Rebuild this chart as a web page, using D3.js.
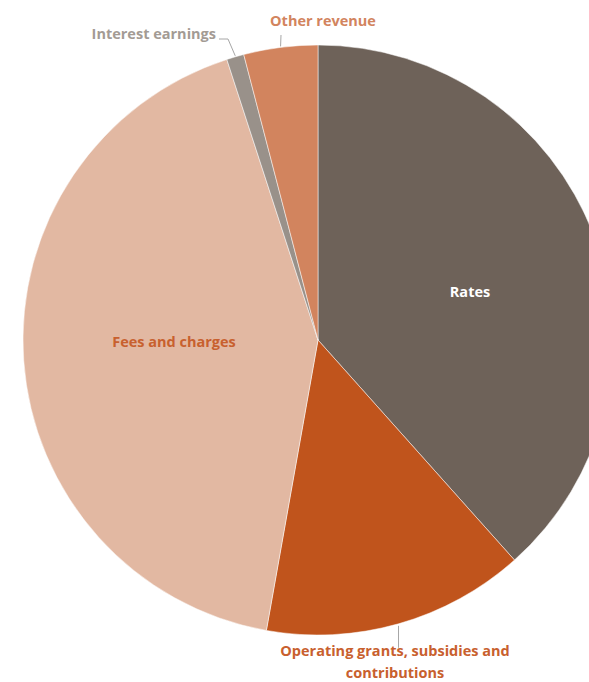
<!DOCTYPE html>
<html><head><meta charset="utf-8">
<script src="https://cdn.jsdelivr.net/npm/d3@7"></script>
<style>body{margin:0;background:#fff}svg{display:block}text{font-family:"Open Sans",Lato,sans-serif;font-weight:bold}</style>
</head><body>
<svg id="chart" width="589" height="682"></svg>
<script>
const categories = ["Rates","Operating grants, subsidies and contributions","Fees and charges","Interest earnings","Other revenue"];
const values = [38.4, 14.4, 42.2, 0.95, 4.05];
const colors = ["#6e6259","#c0541c","#e2b8a2","#99918a","#d2845e"];
const labelColors = ["#ffffff","#c8602e","#c8602e","#a39b94","#d2845e"];

const svg = d3.select("#chart");
const cx = 318, cy = 340, r = 295;
const g = svg.append("g").attr("transform",`translate(${cx},${cy})`);
const data = categories.map((c,i)=>({c, v:values[i], col:colors[i], lc:labelColors[i]}));
const pie = d3.pie().value(d=>d.v).sort(null);
const arcs = pie(data);
const arc = d3.arc().innerRadius(0).outerRadius(r);
g.selectAll("path").data(arcs).join("path")
  .attr("d",arc).attr("fill",d=>d.data.col)
  .attr("stroke","#ffffff").attr("stroke-width",0.5);

const fs = 14.5;
function addText(x,y,lines,color,anchor){
  const t = svg.append("text").attr("x",x).attr("y",y).attr("fill",color)
    .attr("font-size",fs).attr("text-anchor",anchor||"middle");
  lines.forEach((l,i)=>t.append("tspan").attr("x",x).attr("dy",i?22:0).text(l));
}
addText(470, 297, ["Rates"], labelColors[0]);
addText(174, 347, ["Fees and charges"], labelColors[2]);

const lc = "#a6a6a6";
function edge(i, frac){
  const a = arcs[i].startAngle + (arcs[i].endAngle-arcs[i].startAngle)*frac;
  return [cx + r*Math.sin(a), cy - r*Math.cos(a)];
}
const pO = edge(1,0.5);
svg.append("path").attr("d",`M${pO[0]},${pO[1]+2} L${pO[0]},${pO[1]+24}`).attr("stroke",lc).attr("fill","none");
addText(395, 656, ["Operating grants, subsidies and","contributions"], labelColors[1]);
const pI = edge(3,0.5);
svg.append("path").attr("d",`M${pI[0]},${pI[1]-1} L228,39 L219,39`).attr("stroke",lc).attr("fill","none");
addText(216, 39, ["Interest earnings"], labelColors[3], "end");
const pR = edge(4,0.5);
svg.append("path").attr("d",`M${pR[0]},${pR[1]-1} L281,35`).attr("stroke",lc).attr("fill","none");
addText(323, 26, ["Other revenue"], labelColors[4]);
</script>
</body></html>
